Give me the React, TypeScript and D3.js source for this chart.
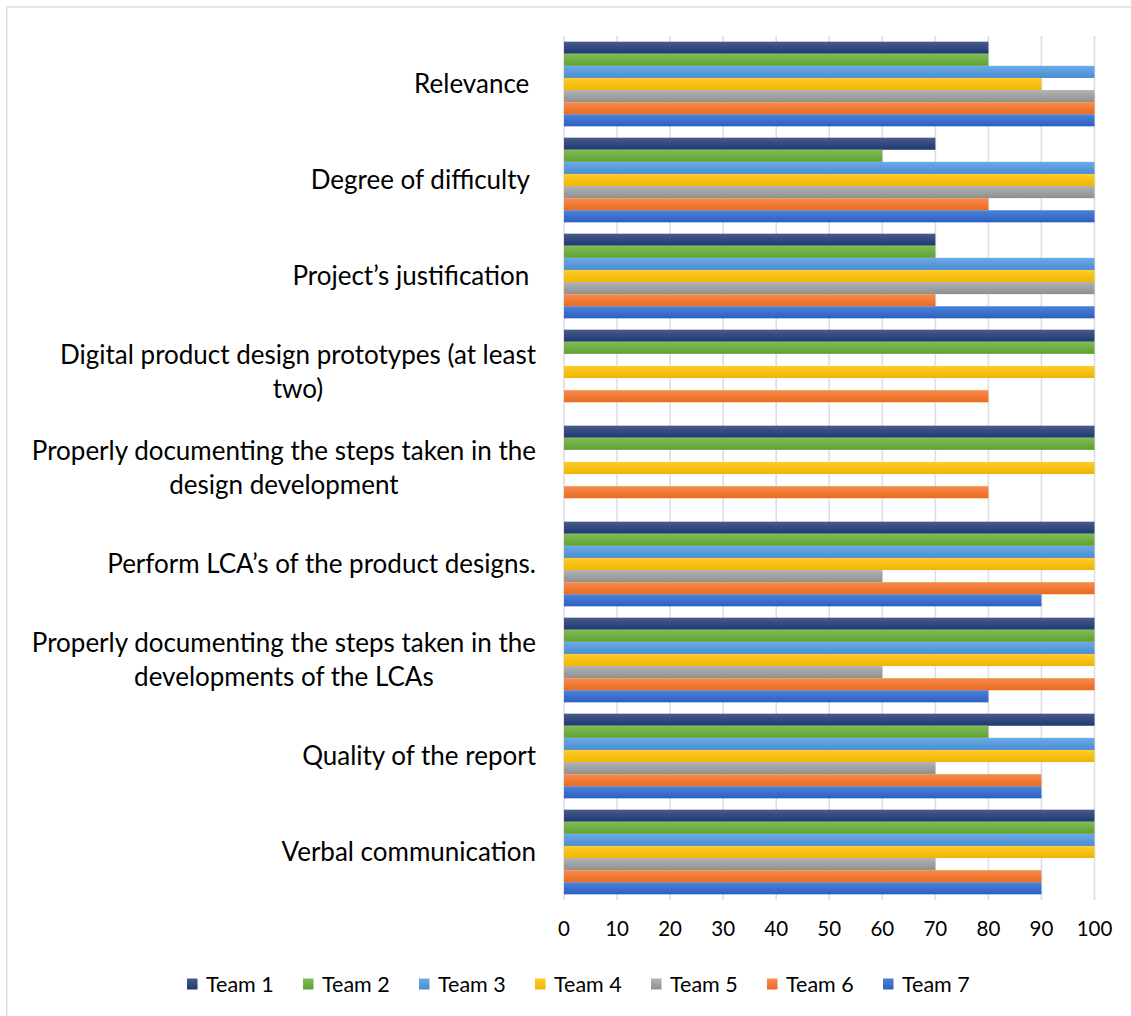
import React, { useEffect, useRef } from "react";
import * as d3 from "d3";

const categories = [
  "Relevance ",
  "Degree of difficulty ",
  "Project\u2019s justification ",
  "Digital product design prototypes (at least\ntwo)",
  "Properly documenting the steps taken in the\ndesign development",
  "Perform LCA\u2019s of the product designs.",
  "Properly documenting the steps taken in the\ndevelopments of the LCAs",
  "Quality of the report",
  "Verbal communication",
];

const teams = ["Team 1", "Team 2", "Team 3", "Team 4", "Team 5", "Team 6", "Team 7"];

const team1 = [80, 70, 70, 100, 100, 100, 100, 100, 100];
const team2 = [80, 60, 70, 100, 100, 100, 100, 80, 100];
const team3 = [100, 100, 100, 0, 0, 100, 100, 100, 100];
const team4 = [90, 100, 100, 100, 100, 100, 100, 100, 100];
const team5 = [100, 100, 100, 0, 0, 60, 60, 70, 70];
const team6 = [100, 80, 70, 80, 80, 100, 100, 90, 90];
const team7 = [100, 100, 100, 0, 0, 90, 80, 90, 90];

const seriesValues = [team1, team2, team3, team4, team5, team6, team7];

const xTicks = [0, 10, 20, 30, 40, 50, 60, 70, 80, 90, 100];

const gradients = [
  ["#4a5c88", "#1d3870"],
  ["#80bc55", "#5fa036"],
  ["#6ea9e2", "#478dd6"],
  ["#ffcb2a", "#efb600"],
  ["#b3b3b3", "#8f8f8f"],
  ["#f58d50", "#eb6a1c"],
  ["#4d82d6", "#2d60bf"],
];

const FONT = "Lato, 'Open Sans', sans-serif";

export default function App() {
  const ref = useRef<SVGSVGElement | null>(null);

  useEffect(() => {
    const svg = d3.select(ref.current);
    svg.selectAll("*").remove();

    const W = 1131, H = 1016;
    const left = 564, right = 1094.5, top = 36, bottom = 900;

    const defs = svg.append("defs");
    gradients.forEach((g, i) => {
      const lg = defs
        .append("linearGradient")
        .attr("id", "grad" + i)
        .attr("x1", 0).attr("y1", 0).attr("x2", 0).attr("y2", 1);
      lg.append("stop").attr("offset", "0%").attr("stop-color", g[0]);
      lg.append("stop").attr("offset", "100%").attr("stop-color", g[1]);
    });

    svg.append("rect")
      .attr("x", 0).attr("y", 0).attr("width", W).attr("height", H)
      .attr("fill", "#ffffff");
    svg.append("rect")
      .attr("x", 6.75).attr("y", 7).attr("width", W + 20).attr("height", H + 20)
      .attr("fill", "none").attr("stroke", "#dedede").attr("stroke-width", 1.5);

    const x = d3.scaleLinear().domain([0, 100]).range([left, right]);
    const y0 = d3.scaleBand<number>()
      .domain(d3.range(categories.length))
      .range([top, bottom])
      .paddingInner(0.118)
      .paddingOuter(0.059);
    const y1 = d3.scaleBand<number>()
      .domain(d3.range(teams.length))
      .range([0, y0.bandwidth()])
      .padding(0);

    // gridlines
    svg.append("g")
      .selectAll("line")
      .data(xTicks)
      .join("line")
      .attr("x1", (d) => x(d)).attr("x2", (d) => x(d))
      .attr("y1", top).attr("y2", bottom)
      .attr("stroke", "#dadee6").attr("stroke-width", 1.6);

    // bars
    const groups = svg.append("g")
      .selectAll("g")
      .data(categories.map((c, ci) => ci))
      .join("g")
      .attr("transform", (ci) => `translate(0,${y0(ci)})`);
    groups.selectAll("rect")
      .data((ci) => seriesValues.map((s, ti) => ({ ti, v: s[ci] })))
      .join("rect")
      .attr("x", x(0))
      .attr("y", (d) => y1(d.ti)!)
      .attr("width", (d) => Math.max(0, x(d.v) - x(0)))
      .attr("height", y1.bandwidth())
      .attr("fill", (d) => `url(#grad${d.ti})`);

    // tick labels
    svg.append("g")
      .selectAll("text")
      .data(xTicks)
      .join("text")
      .attr("x", (d) => x(d))
      .attr("y", 929)
      .attr("dy", "0.35em")
      .attr("text-anchor", "middle")
      .attr("font-family", FONT)
      .attr("font-size", 20.5)
      .attr("fill", "#000")
      .text((d) => String(d));

    // category labels
    const labelRight = 536;
    const lineH = 34;
    categories.forEach((c, ci) => {
      const lines = c.split("\n");
      const cy = y0(ci)! + y0.bandwidth() / 2;
      const g = svg.append("g");
      const texts = lines.map((ln, li) =>
        g.append("text")
          .attr("y", cy + (li - (lines.length - 1) / 2) * lineH)
          .attr("dy", "0.35em")
          .attr("font-family", FONT)
          .attr("font-size", 26)
          .attr("fill", "#000")
          .style("white-space", "pre")
          .text(ln)
      );
      if (lines.length === 1) {
        texts[0].attr("x", labelRight).attr("text-anchor", "end");
      } else {
        const widths = texts.map((t) => (t.node() as SVGTextElement).getComputedTextLength());
        const maxW = Math.max(...widths);
        texts.forEach((t) => t.attr("x", labelRight - maxW / 2).attr("text-anchor", "middle"));
      }
    });

    // legend
    const legStart = 187, legStep = 116, legY = 984;
    const leg = svg.append("g")
      .selectAll("g")
      .data(teams.map((t, i) => ({ t, i })))
      .join("g")
      .attr("transform", (d) => `translate(${legStart + d.i * legStep},${legY})`);
    leg.append("rect")
      .attr("x", 0).attr("y", -5.5).attr("width", 10.5).attr("height", 11)
      .attr("fill", (d) => `url(#grad${d.i})`);
    leg.append("text")
      .attr("x", 19).attr("y", 0).attr("dy", "0.35em")
      .attr("font-family", FONT).attr("font-size", 21.5)
      .attr("fill", "#000")
      .text((d) => d.t);
  }, []);

  return (
    <svg
      ref={ref}
      width={1131}
      height={1016}
      style={{ position: "absolute", left: 0, top: 0, display: "block" }}
    />
  );
}
